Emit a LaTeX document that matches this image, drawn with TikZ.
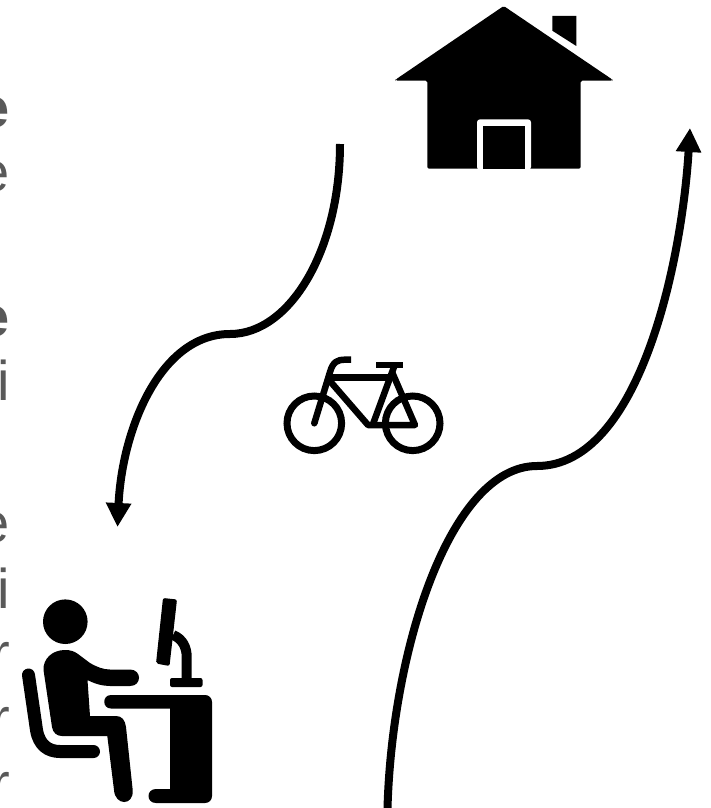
\documentclass[tikz,border=0pt]{standalone}
\usepackage{fontspec}
\setmainfont{Liberation Sans}
\usetikzlibrary{arrows.meta}
\definecolor{txt}{HTML}{595959}
\tikzset{
  cuttext/.style={anchor=base east,inner sep=0pt,outer sep=0pt,text=txt,font=\fontsize{56}{60}\selectfont},
  cutbold/.style={cuttext,font=\fontsize{56}{60}\selectfont\bfseries},
  route/.style={line width=8pt,-{Triangle[length=24pt,width=24pt]}}
}
\begin{document}
\begin{tikzpicture}[x=1pt,y=-1pt]
\useasboundingbox (0,0) rectangle (711,808);
\begin{scope}
\clip (0,0) rectangle (711,808);
\node[cutbold] (t1) at (10,127.5) {e};
\node[cuttext] (t2) at (9.6,191.5) {e};
\node[cutbold] (t3) at (10,336.5) {e};
\node[cuttext] (t4) at (9.7,400) {i};
\node[cuttext] (t5) at (9.6,542.5) {e};
\node[cuttext] (t6) at (9.7,608) {i};
\node[cuttext] (t7) at (10,672) {r};
\node[cuttext] (t8) at (10,737) {r};
\node[cuttext] (t9) at (10,802) {r};
\end{scope}
% house
\fill[black,rounded corners=1.5pt] (503.7,6) -- (612.3,79.5) -- (612.3,80.7) -- (580.7,80.7) -- (580.7,168.7) -- (427.3,168.7) -- (427.3,80.7) -- (395.7,80.7) -- (395.7,79.5) -- cycle;
\fill[black] (552.3,16) -- (576.3,16) -- (576.3,46) -- (552.3,30.7) -- cycle;
\fill[white,rounded corners=3pt] (477,170) -- (477,119.3) -- (531,119.3) -- (531,170) -- cycle;
\fill[black] (483,168.7) -- (483,125.7) -- (525,125.7) -- (525,168.7) -- cycle;
% bicycle
\draw[line width=7pt] (314.3,423.3) circle [radius=27.3];
\draw[line width=7pt] (412.7,423.3) circle [radius=27.3];
\begin{scope}[line width=6.5pt,line join=round]
\draw (314.3,423.3) -- (330,372) .. controls (333,362) and (337,359.7) .. (345,359.7) -- (351,359.7);
\fill (314.3,423.3) circle [radius=3.25];
\draw (329,377.3) -- (390,377.3);
\draw (329,380) -- (368,425) -- (415,425) -- (392,372);
\draw (394,367) -- (373,424);
\draw (376,365) -- (403,365);
\end{scope}
% person
\fill[black] (65.3,621.7) circle [radius=22.3];
\fill[black] (65,650) .. controls (52,650) and (43,659) .. (43.5,670) -- (52,727) .. controls (53,733) and (57,736) .. (62,736) -- (107.3,736) -- (114,790) .. controls (115,806) and (134,806) .. (132.7,790) -- (126,727) .. controls (125,720) and (122,716) .. (116,716) -- (90,716) -- (87.5,680) .. controls (95,684) and (103,686) .. (110,686) -- (130,686) .. controls (142,686) and (142,669.5) .. (130,669.5) -- (110,669.5) .. controls (103,669.5) and (97,667) .. (90,663) -- (78,654) .. controls (74,651) and (70,650) .. (65,650) -- cycle;
\draw[line width=13pt,line cap=round,line join=round] (28.5,675) -- (36.5,730) .. controls (39,745) and (48,751.5) .. (60,751.5) -- (93.5,751.5);
% desk
\fill[black] (111,695) -- (205,695) .. controls (209,695) and (212,698) .. (212,702) -- (212,796) .. controls (212,800) and (209,803) .. (205,803) -- (156,803) .. controls (146,803) and (146,789) .. (156,789) -- (170,789) -- (170,708.5) -- (111,708.5) .. controls (102,708.5) and (102,695) .. (111,695) -- cycle;
\fill[black,rounded corners=2pt] (163,598) -- (177,599.5) -- (169.5,666) -- (156,663.5) -- cycle;
\draw[line width=10pt] (173,635) .. controls (183,639) and (186.7,648) .. (186.7,657) -- (186.7,680);
\fill[black,rounded corners=2pt] (170,678) rectangle (202.5,687);
% routes
\coordinate (a1s) at (340,144);
\coordinate (a1m) at (230,334);
\coordinate (a1e) at (117.5,527);
\coordinate (a2s) at (387.5,808);
\coordinate (a2m) at (537,466);
\coordinate (a2e) at (690,128);
\draw[route] (a1s) .. controls (340,250) and (290,334) .. (a1m) .. controls (160,334) and (122,430) .. (a1e);
\draw[route] (a2s) .. controls (392,650) and (450,466) .. (a2m) .. controls (640,466) and (682,260) .. (a2e);
\end{tikzpicture}
\end{document}
